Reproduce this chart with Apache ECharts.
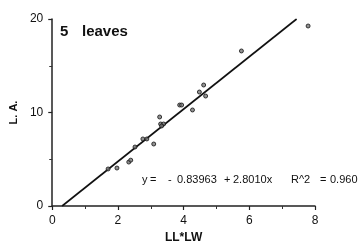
<!DOCTYPE html>
<html><head><meta charset="utf-8">
<script src="https://cdn.jsdelivr.net/npm/echarts@6/dist/echarts.min.js"></script>
<style>html,body{margin:0;padding:0;background:#fff}#c{width:361px;height:251px}</style>
</head><body><div id="c"></div>
<script>
var pointsX = [1.70, 1.97, 2.33, 2.39, 2.52, 2.76, 2.88, 3.09, 3.27, 3.30, 3.39, 3.33, 3.88, 3.94, 4.27, 4.48, 4.61, 4.67, 5.76, 7.79];
var pointsY = [3.96, 4.06, 4.70, 4.90, 6.31, 7.17, 7.17, 6.63, 9.52, 8.77, 8.77, 8.56, 10.80, 10.80, 10.27, 12.19, 12.94, 11.76, 16.58, 19.25];
var fitX = [0.30, 7.44];
var fitY = [0, 20];
var xTicks = [0, 2, 4, 6, 8];
var yTicks = [0, 10, 20];
var titleParts = ["5", "leaves"];
var eqParts = ["y", "=", "-", "0.83963", "+", "2.8010x", "R^2", "=", "0.960"];

var scatterData = pointsX.map(function (x, i) { return [x, pointsY[i]]; });
var fitData = fitX.map(function (x, i) { return [x, fitY[i]]; });
var font = "'Liberation Sans', Arial, sans-serif";
var eqLeft = [142, 150, 168, 177, 224, 233, 291, 320, 330];
var titleLeft = [60, 82];
var graphics = [];
titleParts.forEach(function (t, i) {
  graphics.push({type: 'text', left: titleLeft[i], top: 24, style: {text: t, font: 'bold 15px ' + font, fill: '#111'}});
});
eqParts.forEach(function (t, i) {
  graphics.push({type: 'text', left: eqLeft[i], top: 174, style: {text: t, font: '11px ' + font, fill: '#111'}});
});

var chart = echarts.init(document.getElementById('c'), null, {renderer: 'canvas'});
chart.setOption({
  animation: false,
  backgroundColor: '#fff',
  grid: {left: 51, right: 46, top: 19, bottom: 45},
  xAxis: {
    type: 'value', min: xTicks[0], max: xTicks[xTicks.length - 1], interval: 2,
    name: 'LL*LW', nameLocation: 'middle', nameGap: 26,
    nameTextStyle: {fontFamily: font, fontSize: 12, fontWeight: 'bold', color: '#111'},
    axisLine: {lineStyle: {color: '#222', width: 1.5}},
    axisTick: {length: 4, lineStyle: {color: '#222', width: 1.2}},
    minorTick: {show: true, splitNumber: 2, length: 3, lineStyle: {color: '#333'}},
    axisLabel: {fontFamily: font, fontSize: 12, color: '#111', margin: 9},
    splitLine: {show: false}
  },
  yAxis: {
    type: 'value', min: yTicks[0], max: yTicks[yTicks.length - 1], interval: 10,
    name: 'L. A.', nameLocation: 'middle', nameGap: 33,
    nameTextStyle: {fontFamily: font, fontSize: 11, fontWeight: 'bold', color: '#111'},
    axisLine: {show: true, lineStyle: {color: '#222', width: 1.5}},
    axisTick: {show: true, length: 4, lineStyle: {color: '#222', width: 1.2}},
    minorTick: {show: true, splitNumber: 2, length: 3, lineStyle: {color: '#333'}},
    axisLabel: {fontFamily: font, fontSize: 12, color: '#111', margin: 9},
    splitLine: {show: false}
  },
  series: [
    {
      type: 'line', data: fitData, showSymbol: false, symbol: 'none',
      lineStyle: {color: '#111', width: 1.6}, z: 2
    },
    {
      type: 'scatter', data: scatterData, symbol: 'circle', symbolSize: 4,
      itemStyle: {color: '#777', borderColor: '#111', borderWidth: 1}, z: 3
    }
  ],
  graphic: graphics
});
</script></body></html>
